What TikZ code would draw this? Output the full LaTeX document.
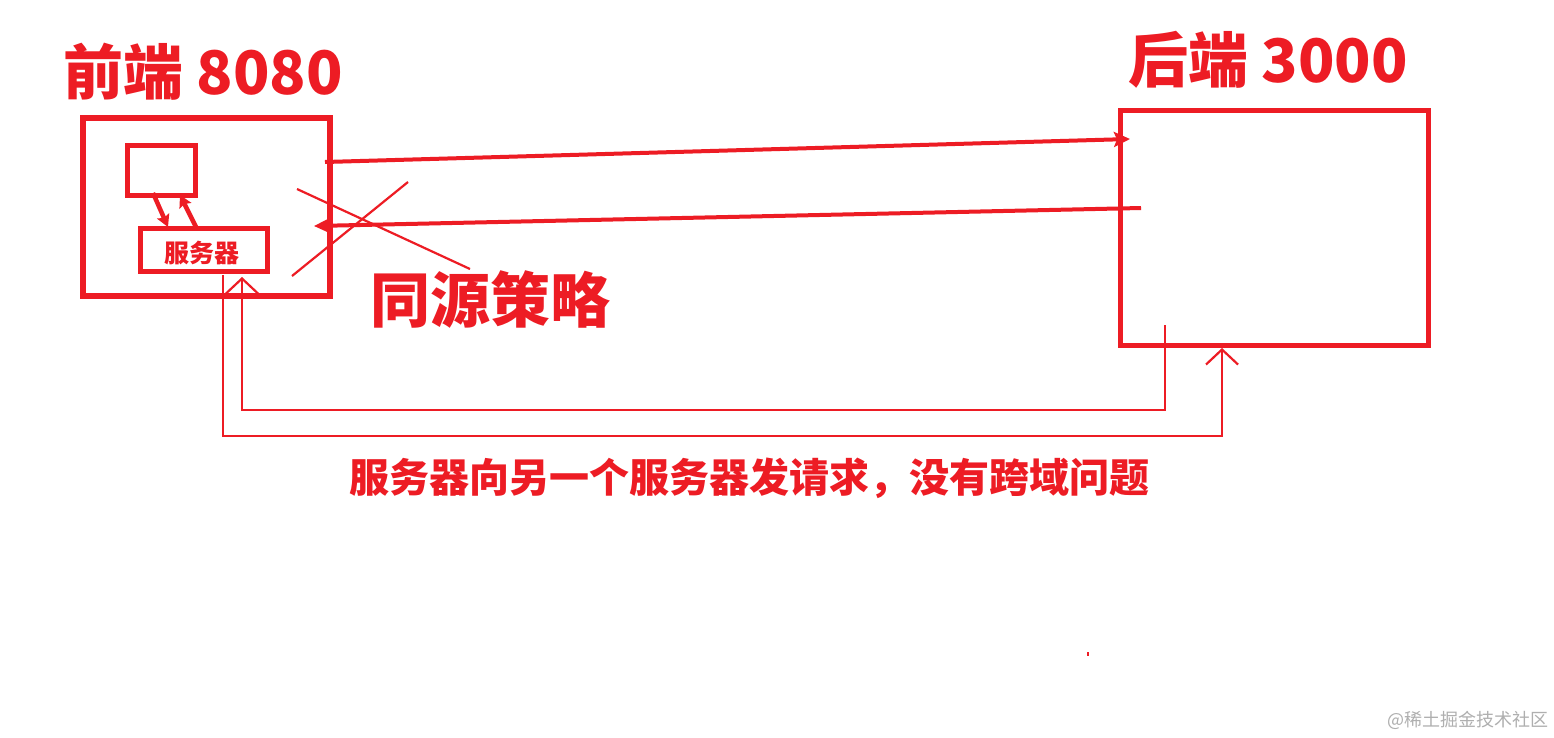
\documentclass[tikz,border=0pt]{standalone}
\usepackage{fontspec}
\newfontfamily\cjk{Noto Sans CJK SC}
\usetikzlibrary{arrows.meta}
\definecolor{pr}{RGB}{237,28,36}
\definecolor{wm}{RGB}{175,175,175}
\begin{document}
\begin{tikzpicture}[x=1pt,y=-1pt,
  box/.style={draw=pr, rectangle, inner sep=0pt},
  lbl/.style={text=pr, font=\cjk\bfseries, inner sep=0pt},
  thickarrow/.style={draw=pr, line width=4pt, -{Stealth[length=16pt,width=15pt,inset=3pt]}},
  smallarrow/.style={draw=pr, line width=4.5pt, -{Stealth[length=12pt,width=13pt,inset=2pt]}},
  thinline/.style={draw=pr, line width=2.2pt},
  openarrow/.style={draw=pr, line width=2.2pt, -{Straight Barb[length=15pt,width=32pt,line width=2.2pt]}}]
\useasboundingbox (0,0) rectangle (1554,737);
\fill[white] (0,0) rectangle (1554,737);

% boxes
\node[box, line width=6pt, minimum width=247pt, minimum height=178pt] (fe) at (206.5,207) {};
\node[box, line width=5pt, minimum width=68pt, minimum height=50pt] (pg) at (161,170) {};
\node[box, line width=5pt, minimum width=127pt, minimum height=43pt] (srv) at (203.5,249.5) {};
\node[lbl, font=\cjk\bfseries\fontsize{25pt}{27pt}\selectfont] (srvt) at (202,253) {服务器};
\node[box, line width=5pt, minimum width=308pt, minimum height=235pt] (be) at (1274,227.5) {};

% titles
\node[lbl, font=\cjk\bfseries\fontsize{60pt}{64pt}\selectfont] (tfe) at (203,72) {前端 8080};
\node[lbl, font=\cjk\bfseries\fontsize{60pt}{64pt}\selectfont] (tbe) at (1268,60) {后端 3000};
\node[lbl, font=\cjk\bfseries\fontsize{60pt}{64pt}\selectfont] (sop) at (490,300) {同源策略};
\node[lbl, font=\cjk\bfseries\fontsize{40pt}{42pt}\selectfont] (note) at (749,478) {服务器向另一个服务器发请求，没有跨域问题};
\node[text=wm, inner sep=0pt, font=\cjk\fontsize{18pt}{20pt}\selectfont] (wmk) at (1468,720) {@稀土掘金技术社区};

% main arrows
\coordinate (a1s) at (325,162);
\coordinate (a1e) at (1130,139);
\draw[thickarrow] (a1s) -- (a1e);
\coordinate (a2s) at (1141,208);
\coordinate (a2e) at (314,226);
\draw[thickarrow] (a2s) -- (a2e);

% small arrows between page and server
\coordinate (p1) at (153,193);
\coordinate (s1) at (168,227);
\draw[smallarrow] (p1) -- (s1);
\coordinate (s2) at (196,227);
\coordinate (p2) at (180,195);
\draw[smallarrow] (s2) -- (p2);

% cross
\coordinate (c1) at (297,189);
\coordinate (c2) at (470,269);
\coordinate (c3) at (408,182);
\coordinate (c4) at (292,276);
\draw[thinline] (c1) -- (c2);
\draw[thinline] (c3) -- (c4);

% server-to-server paths
\coordinate (r1) at (1165,325);
\coordinate (r1e) at (242,277);
\draw[openarrow] (r1) -- (1165,410) -- (242,410) -- (r1e);
\coordinate (r2) at (223,275);
\coordinate (r2e) at (1222,348);
\draw[openarrow] (r2) -- (223,436) -- (1222,436) -- (r2e);

% dot
\fill[pr] (1087,652) rectangle (1089,656);
\end{tikzpicture}
\end{document}
